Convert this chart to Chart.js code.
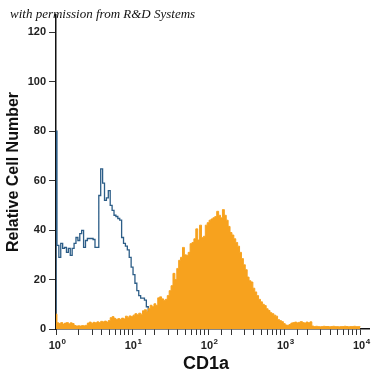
<!DOCTYPE html>
<html>
<head>
<meta charset="utf-8">
<script src="https://cdn.jsdelivr.net/npm/chart.js@4.4.1/dist/chart.umd.min.js"></script>
<style>
  html, body { margin: 0; padding: 0; background: #fff; }
  #wrap { width: 375px; height: 375px; }
</style>
</head>
<body>
<div id="wrap"><canvas id="c" width="375" height="375"></canvas></div>
<script>
// ---- data ----
const binsPerDecade = 40;               // histogram bins per decade of the log axis
const xTickExponents = ['0', '1', '2', '3', '4'];   // labels 10^0 ... 10^4
const yTickValues = [0, 20, 40, 60, 80, 100, 120];

// CD1a stained (orange, filled), bins start at 10^0
const orangeCounts = [
  6, 2.5, 2.2, 2.6, 2.0, 2.4, 2.6, 2.1, 2.5, 2.2,
  1.4, 1.2, 1.3, 1.2, 1.4, 1.3, 1.5, 2.4, 2.8, 2.3,
  2.7, 2.5, 2.9, 2.6, 3.1, 2.9, 3.2, 2.8, 3.4, 4.6,
  5.0, 4.3, 3.8, 4.2, 3.9, 4.4, 4.1, 5.2, 4.8, 5.3,
  5.0, 5.6, 6.2, 5.8, 6.4, 6.0, 7.4, 7.8, 7.2, 8.2,
  9.6, 9.0, 10.2, 9.5, 12.6, 13.0, 12.2, 11.6, 12.0, 13.5,
  15.5, 17.5, 22.5, 20.0, 24.5, 27.8, 29, 33, 30, 29.8,
  31, 34.5, 35, 36.5, 40.5, 36, 42, 37, 37.5, 42,
  43, 44, 44.5, 45, 45.5, 47.6, 46, 45, 48.3, 46,
  44, 41.5, 39, 38, 36.5, 35, 33.5, 31, 28.5, 26,
  24, 21, 19.5, 19, 16.5, 15, 13.5, 12, 11, 10,
  9.5, 8.2, 7.5, 6.6, 6.2, 5.6, 5.2, 3.8, 3.4, 3.0,
  2.2, 1.6, 1.5, 1.8, 2.4, 2.6, 2.8, 2.5, 2.7, 3.0,
  2.6, 2.4, 2.8, 2.5, 2.9, 1.2, 1.0, 1.1, 1.0, 0.9,
  1.0, 1.1, 1.0, 1.0, 0.9, 1.0, 1.1, 1.0, 1.0, 0.9,
  1.0, 1.0, 1.1, 1.0, 0.9, 1.0, 1.0, 1.1, 1.0, 1.0,
  1.0
];

// isotype control (blue outline), bins start at 10^0
const blueCounts = [
  80, 33.8, 29, 34.6, 32.6, 33, 31, 32.6, 29.8, 32.6,
  34.6, 37, 35.8, 38.6, 39.9, 33, 35.8, 36.6, 36.6, 36.6,
  36.2, 33, 33, 54, 64.8, 59, 52, 53, 56, 50,
  48, 46, 45.5, 44.7, 44, 37, 34.6, 33.5, 32, 29,
  25, 22, 18.5, 15.5, 13.5, 12.5, 12.5, 11.7, 9, 6,
  3
];

// ---- build points on the log axis ----
function toPoints(counts) {
  return counts.map((v, i) => ({ x: Math.pow(10, i / binsPerDecade), y: v }));
}
const orangePts = toPoints(orangeCounts);
const bluePts = [{ x: 1, y: 0 }].concat(toPoints(blueCounts));

const FAMILY = '"Liberation Sans", Arial, sans-serif';

// text overlays: watermark, x axis power-of-ten labels, x axis title
const overlay = {
  id: 'overlay',
  afterDraw(chart) {
    const ctx = chart.ctx;
    const xs = chart.scales.x;
    ctx.save();
    ctx.font = 'italic 13px "Liberation Serif"';
    ctx.fillStyle = '#111';
    ctx.textBaseline = 'alphabetic';
    ctx.textAlign = 'left';
    ctx.fillText('with permission from R&D Systems', 10, 18);

    // 10^n labels with raised exponent
    ctx.fillStyle = '#222';
    xTickExponents.forEach((ex, n) => {
      const px = xs.getPixelForValue(Math.pow(10, n));
      ctx.font = 'bold 11px ' + FAMILY;
      const wb = ctx.measureText('10').width;
      ctx.font = 'bold 8px ' + FAMILY;
      const we = ctx.measureText(ex).width;
      const left = px - (wb + we) / 2 + 1;
      ctx.font = 'bold 11px ' + FAMILY;
      ctx.fillText('10', left, 349);
      ctx.font = 'bold 8px ' + FAMILY;
      ctx.fillText(ex, left + wb + 0.5, 344);
    });

    // x axis title
    ctx.font = 'bold 18px ' + FAMILY;
    ctx.fillStyle = '#111';
    ctx.textAlign = 'center';
    ctx.fillText('CD1a', 206, 369);
    ctx.restore();
  }
};

const tickFont = { family: FAMILY, size: 11, weight: 'bold' };

new Chart(document.getElementById('c'), {
  type: 'line',
  data: {
    datasets: [
      {
        label: 'CD1a',
        data: orangePts,
        stepped: 'middle',
        borderColor: '#F7A21E',
        backgroundColor: '#F7A21E',
        borderWidth: 1,
        fill: 'origin',
        pointRadius: 0
      },
      {
        label: 'Isotype',
        data: bluePts,
        stepped: 'middle',
        borderColor: '#2C5D87',
        borderWidth: 1.3,
        fill: false,
        pointRadius: 0
      }
    ]
  },
  options: {
    responsive: false,
    animation: false,
    devicePixelRatio: 1,
    layout: { padding: { top: 15, right: 6, left: 0, bottom: 0 } },
    plugins: { legend: { display: false }, tooltip: { enabled: false } },
    scales: {
      x: {
        type: 'logarithmic',
        min: 1,
        max: 13000,
        z: 1,
        border: { color: '#111', width: 1.5 },
        grid: { drawOnChartArea: false, drawTicks: true, tickLength: 6, color: '#333', lineWidth: 1 },
        afterBuildTicks(scale) {
          scale.ticks = scale.ticks.filter(t => t.value <= 10000);
        },
        ticks: {
          autoSkip: false,
          maxRotation: 0,
          padding: 2,
          font: tickFont,
          callback() { return ''; }
        },
        title: { display: false },
        afterFit(scale) { scale.height = 46; }
      },
      y: {
        type: 'linear',
        min: 0,
        max: 127,
        z: 1,
        border: { color: '#111', width: 1.5 },
        grid: { drawOnChartArea: false, drawTicks: true, tickLength: 7, color: '#333', lineWidth: 1 },
        afterBuildTicks(scale) {
          scale.ticks = yTickValues.map(v => ({ value: v }));
        },
        ticks: {
          autoSkip: false,
          padding: 3,
          color: '#222',
          font: tickFont
        },
        title: {
          display: true,
          text: 'Relative Cell Number',
          color: '#111',
          font: { family: FAMILY, size: 16, weight: 'bold' },
          padding: { top: 4, bottom: 0 }
        },
        afterFit(scale) { scale.width = 56; }
      }
    }
  },
  plugins: [overlay]
});
</script>
</body>
</html>
